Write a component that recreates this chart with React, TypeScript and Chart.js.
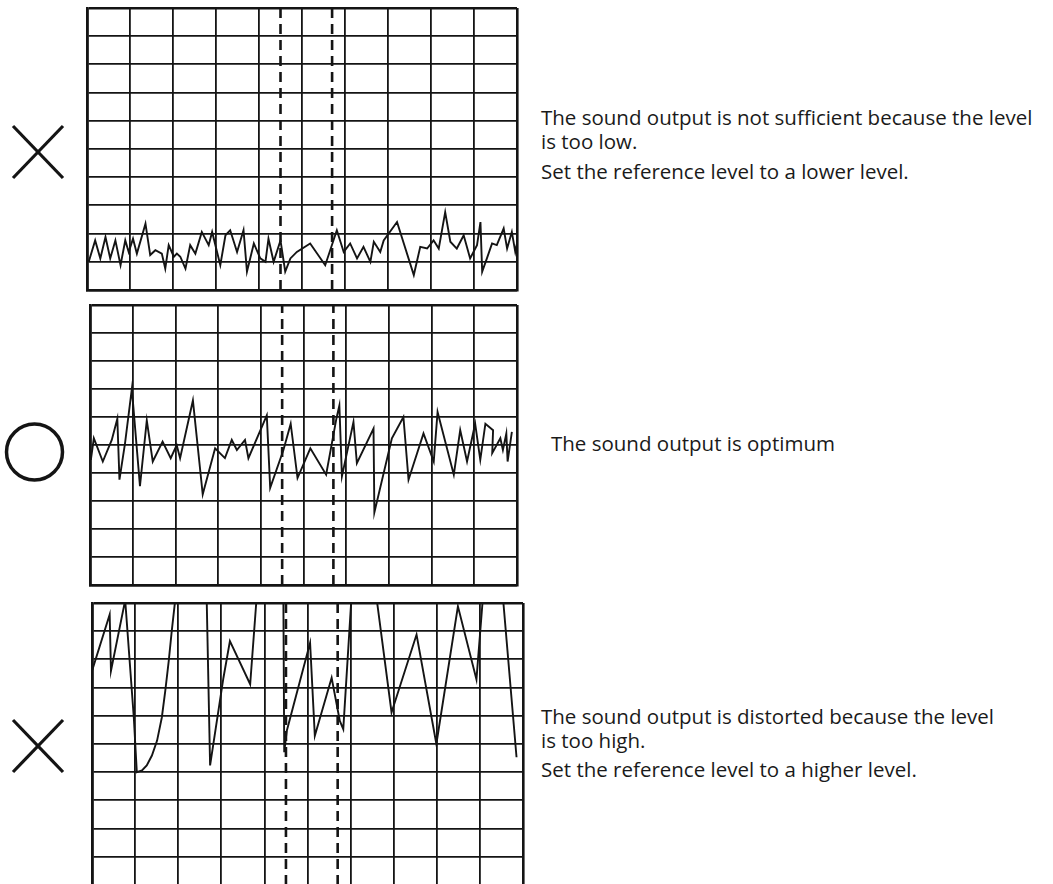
import React, { useEffect, useRef } from "react";
import { Chart, registerables } from "chart.js";

Chart.register(...registerables);

// Marker (dashed) positions in grid divisions
const markerLines = [4.5, 5.7];

// Panel 1: level too low (trace near the bottom)
const lowX = [0.04, 0.19, 0.31, 0.43, 0.54, 0.66, 0.78, 0.89, 0.97, 1.07, 1.16, 1.36, 1.47, 1.59, 1.74, 1.82, 1.9, 2.02, 2.09, 2.17, 2.29, 2.4, 2.52, 2.67, 2.83, 2.91, 3.1, 3.22, 3.33, 3.49, 3.64, 3.72, 3.88, 4.03, 4.15, 4.22, 4.34, 4.5, 4.61, 4.73, 4.88, 5.19, 5.54, 5.81, 5.97, 6.12, 6.28, 6.43, 6.59, 6.67, 6.82, 6.9, 7.21, 7.6, 7.75, 7.91, 8.06, 8.18, 8.33, 8.45, 8.6, 8.76, 8.91, 9.07, 9.15, 9.19, 9.3, 9.42, 9.53, 9.69, 9.77, 9.88, 9.96, 10.0];
const lowY = [1.0, 1.76, 1.12, 1.88, 1.12, 1.76, 0.88, 1.76, 1.35, 1.82, 1.29, 2.35, 1.24, 1.41, 1.29, 0.76, 1.59, 1.18, 1.29, 1.18, 0.76, 1.59, 1.29, 2.06, 1.59, 2.06, 0.88, 1.94, 2.12, 1.35, 2.12, 0.65, 1.65, 1.12, 1.0, 1.82, 1.0, 1.76, 0.65, 1.12, 1.35, 1.65, 0.88, 2.12, 1.35, 1.65, 1.12, 1.53, 1.0, 1.71, 1.35, 1.76, 2.41, 0.53, 1.53, 1.47, 1.76, 1.47, 2.76, 1.71, 1.47, 1.94, 1.12, 1.59, 2.41, 0.65, 1.12, 1.65, 1.59, 2.18, 1.47, 2.06, 1.35, 1.65];

// Panel 2: optimum level (trace around the middle)
const optX = [0.02, 0.09, 0.3, 0.51, 0.64, 0.69, 0.82, 0.98, 1.17, 1.33, 1.47, 1.7, 1.89, 2.03, 2.11, 2.41, 2.64, 2.93, 3.16, 3.32, 3.44, 3.63, 3.71, 4.14, 4.22, 4.53, 4.7, 4.86, 5.16, 5.53, 5.77, 5.84, 5.9, 6.17, 6.25, 6.64, 6.66, 7.07, 7.34, 7.46, 7.81, 8.05, 8.14, 8.52, 8.67, 8.83, 9.02, 9.14, 9.26, 9.44, 9.42, 9.61, 9.67, 9.75, 9.78, 9.88];
const optY = [4.47, 5.24, 4.41, 5.18, 5.94, 3.76, 5.06, 7.0, 3.53, 5.88, 4.41, 5.12, 4.53, 5.0, 4.53, 6.59, 3.24, 4.88, 4.53, 5.18, 4.82, 5.18, 4.53, 6.06, 3.47, 4.82, 5.76, 3.82, 4.88, 3.94, 5.94, 6.41, 3.88, 5.82, 4.35, 5.59, 2.59, 5.24, 6.0, 3.76, 5.41, 4.41, 6.18, 3.94, 5.53, 4.41, 5.76, 4.47, 5.76, 5.53, 4.71, 5.24, 4.82, 5.41, 4.41, 5.47];

// Panel 3: level too high (trace clipped at the top)
const highX = [0.0, 0.41, 0.44, 0.77, 0.97, 1.04, 1.16, 1.27, 1.39, 1.51, 1.62, 1.7, 1.78, 1.85, 1.93, 2.28, 2.66, 2.74, 3.05, 3.2, 3.67, 3.82, 4.13, 4.44, 4.46, 4.52, 5.06, 5.17, 5.56, 5.75, 5.83, 6.02, 6.29, 6.6, 6.95, 7.53, 7.99, 8.49, 8.92, 9.07, 9.3, 9.54, 9.85];
const highY = [7.59, 9.59, 7.59, 10.1, 5.94, 4.0, 4.06, 4.24, 4.59, 5.12, 5.94, 6.88, 7.94, 9.0, 10.1, 12, 10.2, 4.24, 7.35, 8.65, 7.12, 10.2, 12, 10.2, 4.71, 5.47, 8.59, 5.29, 7.35, 5.82, 5.53, 10.2, 12, 10.2, 6.12, 8.88, 5.0, 9.88, 7.29, 10.2, 12, 10.1, 4.53];

const INK = "#141414";

type PanelProps = {
  xs: number[];
  ys: number[];
  left: number;
  top: number;
  width: number;
  height: number;
};

function Panel({ xs, ys, left, top, width, height }: PanelProps) {
  const ref = useRef<HTMLCanvasElement | null>(null);
  const pad = 4;
  useEffect(() => {
    if (!ref.current) return;
    const edgeWidth = (ctx: any) =>
      ctx.tick && (ctx.tick.value === 0 || ctx.tick.value === 10) ? 2.6 : 1.8;
    const axis = {
      type: "linear" as const,
      min: 0,
      max: 10,
      ticks: { display: false, stepSize: 1 },
      grid: { color: INK, lineWidth: edgeWidth, drawTicks: false },
      border: { display: true, color: INK, width: 2.6 },
    };
    const chart = new Chart(ref.current, {
      type: "line",
      data: {
        datasets: [
          {
            data: xs.map((x, i) => ({ x, y: ys[i] })),
            borderColor: INK,
            borderWidth: 1.9,
            pointRadius: 0,
            tension: 0,
            clip: 0,
          },
          ...markerLines.map((m) => ({
            data: [
              { x: m, y: 0 },
              { x: m, y: 10 },
            ],
            borderColor: INK,
            borderWidth: 2.6,
            borderDash: [10, 6],
            pointRadius: 0,
            clip: 0,
          })),
        ],
      },
      options: {
        animation: false,
        responsive: false,
        events: [],
        layout: { padding: pad },
        plugins: { legend: { display: false }, tooltip: { enabled: false } },
        scales: { x: axis, y: axis },
      } as any,
    });
    return () => chart.destroy();
  }, []);
  return (
    <canvas
      ref={ref}
      width={width + pad * 2}
      height={height + pad * 2}
      style={{
        position: "absolute",
        left: left - pad,
        top: top - pad,
        width: width + pad * 2,
        height: height + pad * 2,
      }}
    />
  );
}

const textStyle: React.CSSProperties = {
  position: "absolute",
  fontFamily: "'Open Sans', 'Noto Sans', sans-serif",
  fontSize: 20.5,
  lineHeight: "24px",
  color: "#1a1a1a",
  whiteSpace: "nowrap",
};

function Line({ x, cy, children }: { x: number; cy: number; children: React.ReactNode }) {
  return <div style={{ ...textStyle, left: x, top: cy - 12 }}>{children}</div>;
}

function Cross({ cx, cy }: { cx: number; cy: number }) {
  const h = 25;
  return (
    <svg style={{ position: "absolute", left: 0, top: 0, overflow: "visible" }} width={1} height={1}>
      <line x1={cx - h} y1={cy - 26} x2={cx + h} y2={cy + 26} stroke={INK} strokeWidth={3.2} />
      <line x1={cx + h} y1={cy - 26} x2={cx - h} y2={cy + 26} stroke={INK} strokeWidth={3.2} />
    </svg>
  );
}

export default function App() {
  return (
    <div
      style={{
        position: "absolute",
        left: 0,
        top: 0,
        width: 1053,
        height: 884,
        overflow: "hidden",
        background: "#fff",
      }}
    >
      <Panel xs={lowX} ys={lowY} left={87} top={8} width={430} height={282} />
      <Panel xs={optX} ys={optY} left={90} top={305} width={427} height={280} />
      <Panel xs={highX} ys={highY} left={92} top={603} width={431} height={282} />

      <Cross cx={38} cy={152} />
      <svg style={{ position: "absolute", left: 0, top: 0, overflow: "visible" }} width={1} height={1}>
        <circle cx={34.5} cy={452} r={28} fill="none" stroke={INK} strokeWidth={3.5} />
      </svg>
      <Cross cx={38} cy={746} />

      <Line x={541} cy={117}>The sound output is not sufficient because the level</Line>
      <Line x={541} cy={141}>is too low.</Line>
      <Line x={541} cy={171}>Set the reference level to a lower level.</Line>

      <Line x={551} cy={443}>The sound output is optimum</Line>

      <Line x={541} cy={716}>The sound output is distorted because the level</Line>
      <Line x={541} cy={740}>is too high.</Line>
      <Line x={541} cy={769}>Set the reference level to a higher level.</Line>
    </div>
  );
}
